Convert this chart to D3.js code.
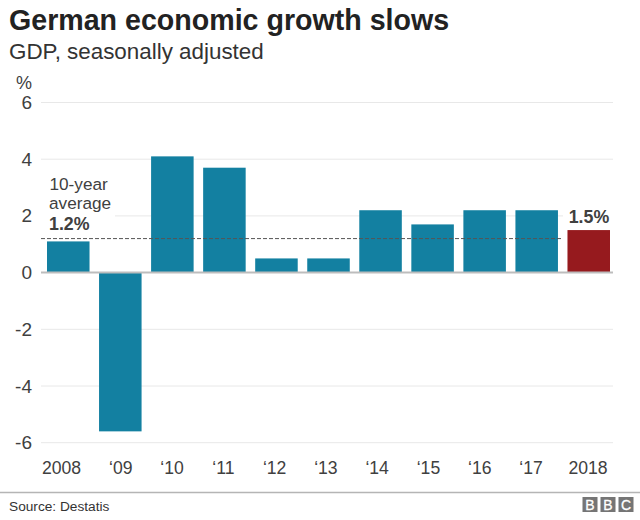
<!DOCTYPE html>
<html>
<head>
<meta charset="utf-8">
<script src="https://cdn.jsdelivr.net/npm/d3@7"></script>
<style>
  html, body { margin: 0; padding: 0; background: #fff; }
  svg { display: block; }
  text { font-family: "Liberation Sans", Arial, sans-serif; }
</style>
</head>
<body>
<div id="chart"></div>
<script>
const years = ["2008", "\u201809", "\u201810", "\u201811", "\u201812", "\u201813", "\u201814", "\u201815", "\u201816", "\u201817", "2018"];
const growth = [1.1, -5.6, 4.1, 3.7, 0.5, 0.5, 2.2, 1.7, 2.2, 2.2, 1.5];
const yTicks = [6, 4, 2, 0, -2, -4, -6];
const average = 1.2;
const bbcLetters = ["B", "B", "C"];

const svg = d3.select("#chart").append("svg").attr("width", 640).attr("height", 520);

const x = d3.scaleBand().domain(years).range([47, 610]).paddingInner(0.183);
const y = d3.scaleLinear().domain([-6, 6]).range([442.7, 102.5]);

// year labels don't sit quite on the bar centres in the original
const xLabel = d3.scalePoint().domain(years.slice(1, -1)).range([120.8, 531]);
const labelX = d => d === "2008" ? 61.5 : d === "2018" ? 588 : xLabel(d);

// titles
svg.append("text").attr("x", 9).attr("y", 30).attr("font-size", 28.6).attr("font-weight", "bold")
  .attr("fill", "#222").text("German economic growth slows");
svg.append("text").attr("x", 9).attr("y", 58.5).attr("font-size", 22.4)
  .attr("fill", "#333").text("GDP, seasonally adjusted");

// gridlines and y labels, the 2 line is cut short around the two annotations
const ticks = svg.append("g").selectAll("g").data(yTicks).join("g");
ticks.filter(d => d !== 0).append("line")
  .attr("x1", d => d === 2 ? 115 : 41).attr("x2", d => d === 2 ? 563 : 613)
  .attr("y1", d => y(d)).attr("y2", d => y(d))
  .attr("stroke", "#e8e8e8").attr("stroke-width", 1);
ticks.append("text").attr("x", 32).attr("y", d => y(d) + 6.5)
  .attr("text-anchor", "end").attr("font-size", 19).attr("fill", "#404040")
  .text(d => d);
svg.append("text").attr("x", 32).attr("y", 89).attr("text-anchor", "end")
  .attr("font-size", 18).attr("fill", "#404040").text("%");

// bars
svg.append("g").selectAll("rect").data(growth).join("rect")
  .attr("x", (d, i) => x(years[i]))
  .attr("width", x.bandwidth())
  .attr("y", d => y(Math.max(d, 0)))
  .attr("height", d => Math.abs(y(d) - y(0)))
  .attr("fill", (d, i) => i === years.length - 1 ? "#961A1E" : "#1380A1");

// zero line
svg.append("line").attr("x1", 41).attr("x2", 613).attr("y1", y(0)).attr("y2", y(0))
  .attr("stroke", "#bdbdbd").attr("stroke-width", 2);

// average line
svg.append("line").attr("x1", 41).attr("x2", 563).attr("y1", y(average)).attr("y2", y(average))
  .attr("stroke", "#555").attr("stroke-width", 1).attr("stroke-dasharray", "4 2");

// annotations
const note = svg.append("g").attr("font-size", 17.2).attr("fill", "#404040");
note.append("text").attr("x", 49.5).attr("y", 190).text("10-year");
note.append("text").attr("x", 49).attr("y", 209).text("average");
note.append("text").attr("x", 49).attr("y", 230).attr("font-size", 17.8).attr("font-weight", "bold").text("1.2%");
svg.append("text").attr("x", 589).attr("y", 223)
  .attr("text-anchor", "middle").attr("font-size", 17.8).attr("font-weight", "bold")
  .attr("fill", "#404040").text("1.5%");

// x labels
svg.append("g").selectAll("text").data(years).join("text")
  .attr("x", labelX).attr("y", 474)
  .attr("text-anchor", "middle").attr("font-size", 17.6).attr("fill", "#404040")
  .text(d => d);

// footer
svg.append("line").attr("x1", 0).attr("x2", 640).attr("y1", 492.5).attr("y2", 492.5)
  .attr("stroke", "#b5b5b5").attr("stroke-width", 1.5);
svg.append("text").attr("x", 9).attr("y", 511).attr("font-size", 13.7)
  .attr("fill", "#333").text("Source: Destatis");

const logo = svg.append("g").selectAll("g").data(bbcLetters).join("g")
  .attr("transform", (d, i) => `translate(${582.5 + i * 18},497)`);
logo.append("rect").attr("width", 15).attr("height", 15).attr("fill", "#757575");
logo.append("text").attr("x", 7.5).attr("y", 12.7).attr("text-anchor", "middle")
  .attr("font-size", 14).attr("fill", "#fff").attr("stroke", "#fff").attr("stroke-width", 0.3).text(d => d);
</script>
</body>
</html>
